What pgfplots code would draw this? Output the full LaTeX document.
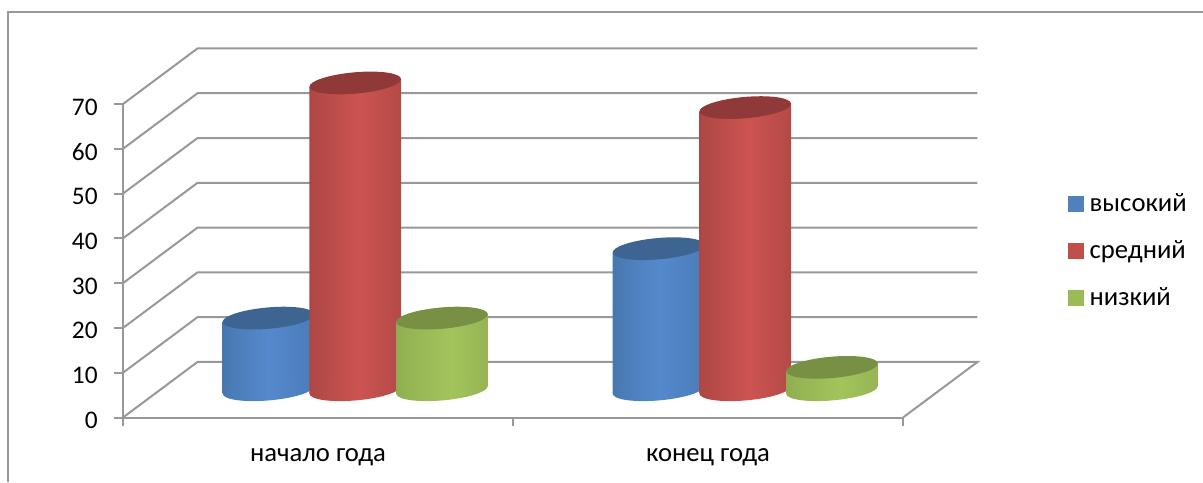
\documentclass[border=0pt]{standalone}
\usepackage{pgfplots}
\pgfplotsset{compat=1.18}
\usepackage{fontspec}
\setmainfont{Carlito}
\definecolor{wallgray}{HTML}{989898}
\definecolor{blueTop}{HTML}{3E6592}
\definecolor{redTop}{HTML}{8F3A38}
\definecolor{greenTop}{HTML}{789044}
\definecolor{blueKey}{HTML}{4F81BD}
\definecolor{redKey}{HTML}{C0504D}
\definecolor{greenKey}{HTML}{9BBB59}
\definecolor{b0}{HTML}{2A4D75}\definecolor{b1}{HTML}{3C6797}\definecolor{b2}{HTML}{4A7CB6}\definecolor{b3}{HTML}{5489CC}\definecolor{b4}{HTML}{4A7CB8}\definecolor{b5}{HTML}{3B6697}\definecolor{b6}{HTML}{2F5680}
\definecolor{r0}{HTML}{6E2C2A}\definecolor{r1}{HTML}{8F3B39}\definecolor{r2}{HTML}{AD4745}\definecolor{r3}{HTML}{CC5450}\definecolor{r4}{HTML}{B04846}\definecolor{r5}{HTML}{8A3836}\definecolor{r6}{HTML}{642826}
\definecolor{g0}{HTML}{647A35}\definecolor{g1}{HTML}{7F9A47}\definecolor{g2}{HTML}{94B353}\definecolor{g3}{HTML}{A3C45C}\definecolor{g4}{HTML}{92B052}\definecolor{g5}{HTML}{768F42}\definecolor{g6}{HTML}{5A6F2F}
\pgfdeclarehorizontalshading{blueCyl}{100bp}{color(0bp)=(b0);color(10bp)=(b1);color(30bp)=(b2);color(50bp)=(b3);color(75bp)=(b4);color(90bp)=(b5);color(100bp)=(b6)}
\pgfdeclarehorizontalshading{redCyl}{100bp}{color(0bp)=(r0);color(8bp)=(r1);color(25bp)=(r2);color(52bp)=(r3);color(78bp)=(r4);color(92bp)=(r5);color(100bp)=(r6)}
\pgfdeclarehorizontalshading{greenCyl}{100bp}{color(0bp)=(g0);color(10bp)=(g1);color(30bp)=(g2);color(55bp)=(g3);color(80bp)=(g4);color(92bp)=(g5);color(100bp)=(g6)}
\newcommand\cylpath{\pgftransformrotate{5}\pgfpathellipse{\pgfpointorigin}{\pgfqpoint{34.5pt}{0pt}}{\pgfqpoint{0pt}{8pt}}}
\pgfdeclareplotmark{cyltop}{\cylpath\pgfusepathqfill}
\pgfdeclareplotmark{botblue}{\cylpath\pgfshadepath{blueCyl}{0}\pgfusepath{discard}}
\pgfdeclareplotmark{botred}{\cylpath\pgfshadepath{redCyl}{0}\pgfusepath{discard}}
\pgfdeclareplotmark{botgreen}{\cylpath\pgfshadepath{greenCyl}{0}\pgfusepath{discard}}
\pgfplotsset{
  body/.style={ybar,bar width=68.7pt,bar shift=0pt,draw=none,shade,shading=#1,yslant=0.08,forget plot},
  cap/.style={only marks,mark=cyltop,mark options={fill=#1,draw=none},forget plot},
  bottom/.style={only marks,mark=#1,forget plot},
  wall/.style={wallgray,line width=1.5pt,no marks,forget plot},
  cylaxis/.style={at={(120.19pt,69.19pt)},anchor=south west,
    scale only axis,width=585pt,height=235.125pt,
    xmin=-0.5,xmax=1.5,ymin=0,ymax=70,clip=false,axis lines=none},
}
\begin{document}
\begin{tikzpicture}[x=1pt,y=1pt]
\useasboundingbox (0,0) rectangle (902.25pt,361.5pt);
\draw[wallgray,line width=1.5pt] (6pt,0pt) -- (6pt,352.5pt) -- (902.25pt,352.5pt);
% front plane, walls, legend
\begin{axis}[
  at={(92.25pt,48.375pt)},anchor=south west,
  scale only axis,width=585pt,height=235.125pt,
  xmin=-0.5,xmax=1.5,ymin=0,ymax=70,clip=false,
  axis x line*=bottom,axis y line*=left,
  axis line style={wallgray,line width=1.5pt,-},
  tick style={wallgray,line width=1.5pt},
  major tick length=6.5pt,tick align=outside,
  ytick={0,10,20,30,40,50,60,70},
  xtick={-0.5,0.5,1.5},xticklabels={},
  extra x ticks={0,1},extra x tick labels={начало года,конец года},
  extra x tick style={major tick length=0pt,xticklabel style={yshift=-20pt}},
  /pgf/number format/assume math mode=true,
  tick label style={font=\fontsize{20}{24}\selectfont,black},
  yticklabel style={xshift=-9pt,font=\fontsize{19}{23}\selectfont,yshift=-2.2pt},
  legend style={draw=none,fill=none,font=\fontsize{20}{24}\selectfont,
    at={(rel axis cs:1.2115,0.7245)},anchor=north west,row sep=16.5pt,inner sep=0pt,
    /tikz/every odd column/.append style={column sep=2.5pt}},
  legend cell align=left,
  legend image code/.code={\fill[#1] (0pt,-5.6pt) rectangle (11.2pt,5.6pt);},
]
\addplot[wall] coordinates {(1.5,0) (1.691,12.4) (-0.309,12.4) (-0.5,0)};
\addplot[wall] coordinates {(-0.5,10) (-0.309,22.4) (1.691,22.4)};
\addplot[wall] coordinates {(-0.5,20) (-0.309,32.4) (1.691,32.4)};
\addplot[wall] coordinates {(-0.5,30) (-0.309,42.4) (1.691,42.4)};
\addplot[wall] coordinates {(-0.5,40) (-0.309,52.4) (1.691,52.4)};
\addplot[wall] coordinates {(-0.5,50) (-0.309,62.4) (1.691,62.4)};
\addplot[wall] coordinates {(-0.5,60) (-0.309,72.4) (1.691,72.4)};
\addplot[wall] coordinates {(-0.5,70) (-0.309,82.4) (1.691,82.4)};
\addlegendimage{blueKey}\addlegendentry{высокий}
\addlegendimage{redKey}\addlegendentry{средний}
\addlegendimage{greenKey}\addlegendentry{низкий}
\end{axis}
% cylinders stand half way into the depth of the floor; one axis per series for the stacking order
\begin{axis}[cylaxis]
\addplot[bottom=botblue] coordinates {(-0.2224,0) (0.7776,0)};
\addplot[body=blueCyl,yshift=-6.50pt] coordinates {(-0.2224,16)};
\addplot[body=blueCyl,yshift=-29.90pt] coordinates {(0.7776,31.5)};
\addplot[cap=blueTop] coordinates {(-0.2224,16) (0.7776,31.5)};
\end{axis}
\begin{axis}[cylaxis]
\addplot[bottom=botred] coordinates {(0,0) (1,0)};
\addplot[body=redCyl,yshift=-11.70pt] coordinates {(0,68.5)};
\addplot[body=redCyl,yshift=-35.10pt] coordinates {(1,63)};
\addplot[cap=redTop] coordinates {(0,68.5) (1,63)};
\end{axis}
\begin{axis}[cylaxis]
\addplot[bottom=botgreen] coordinates {(0.2224,0) (1.2224,0)};
\addplot[body=greenCyl,yshift=-16.90pt] coordinates {(0.2224,16)};
\addplot[body=greenCyl,yshift=-40.30pt] coordinates {(1.2224,5)};
\addplot[cap=greenTop] coordinates {(0.2224,16) (1.2224,5)};
\end{axis}
\end{tikzpicture}
\end{document}
